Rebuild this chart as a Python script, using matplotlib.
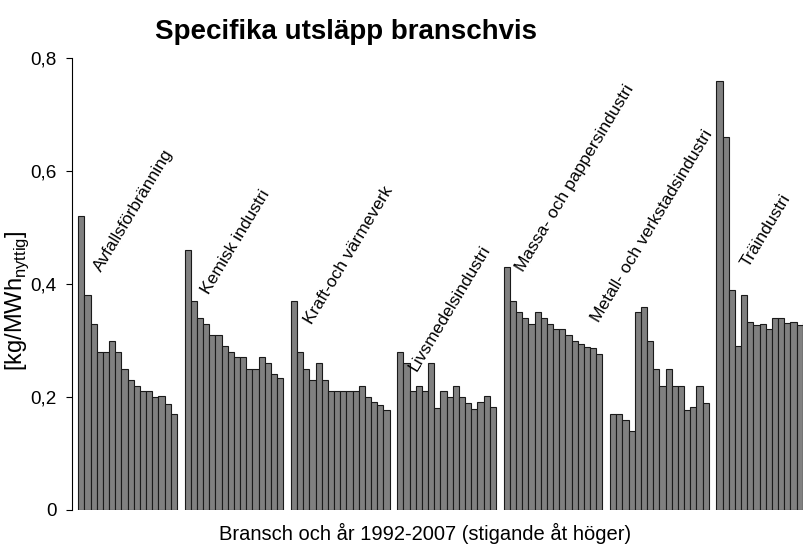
import numpy as np
import matplotlib.pyplot as plt

plt.rcParams['font.family'] = ['Liberation Sans', 'DejaVu Sans']
plt.rcParams['mathtext.fontset'] = 'custom'
plt.rcParams['mathtext.rm'] = 'Liberation Sans'

# branscher, 16 år vardera (1992-2007)
branscher = ['Avfallsförbränning', 'Kemisk industri', 'Kraft-och värmeverk',
             'Livsmedelsindustri', 'Massa- och pappersindustri',
             'Metall- och verkstadsindustri', 'Träindustri']

avfall = [0.52, 0.38, 0.33, 0.28, 0.28, 0.30, 0.28, 0.25, 0.23, 0.22, 0.21, 0.21, 0.20, 0.202, 0.188, 0.17]
kemisk = [0.46, 0.37, 0.34, 0.33, 0.31, 0.31, 0.29, 0.28, 0.27, 0.27, 0.25, 0.25, 0.27, 0.26, 0.24, 0.234]
kraft = [0.37, 0.28, 0.25, 0.23, 0.26, 0.23, 0.21, 0.21, 0.21, 0.21, 0.21, 0.22, 0.20, 0.192, 0.186, 0.177]
livsmedel = [0.28, 0.26, 0.21, 0.22, 0.21, 0.26, 0.18, 0.21, 0.20, 0.22, 0.20, 0.19, 0.178, 0.192, 0.201, 0.182]
massa = [0.43, 0.37, 0.35, 0.34, 0.33, 0.35, 0.34, 0.33, 0.32, 0.32, 0.31, 0.30, 0.293, 0.288, 0.286, 0.276]
metall = [0.17, 0.17, 0.16, 0.14, 0.35, 0.36, 0.30, 0.25, 0.22, 0.25, 0.22, 0.22, 0.177, 0.183, 0.22, 0.189]
tra = [0.76, 0.66, 0.39, 0.29, 0.38, 0.333, 0.327, 0.33, 0.321, 0.34, 0.34, 0.331, 0.332, 0.328, 0.333, 0.33]

serier = [avfall, kemisk, kraft, livsmedel, massa, metall, tra]

# layout: group spacing and where each rotated label starts (relative to group start)
period = 17.25
label_pos = [(3.2, 0.42), (3.4, 0.38), (2.9, 0.327), (2.6, 0.244),
             (2.7, 0.421), (-2.3, 0.331), (4.7, 0.428)]

fig = plt.figure(figsize=(8.04, 5.44), dpi=100)
ax = fig.add_axes([72 / 804, 34 / 544, 1 - 72 / 804, 452 / 544])

for g, vals in enumerate(serier):
    x = g * period + np.arange(len(vals))
    ax.bar(x, vals, width=1.0, color='#808080', edgecolor='#1a1a1a', linewidth=0.8)
    dx, y = label_pos[g]
    ax.text(g * period + dx, y, branscher[g], rotation=59, rotation_mode='anchor',
            ha='left', va='baseline', fontsize=12.6)

ax.set_xlim(-1.5, 117.2)
ax.set_ylim(0, 0.8)
ax.set_yticks([0, 0.2, 0.4, 0.6, 0.8])
ax.set_yticklabels(['0', '0,2', '0,4', '0,6', '0,8'], fontsize=13.6)
ax.set_xticks([])
ax.tick_params(axis='y', direction='out', length=4, width=0.8, pad=7)

for side in ['top', 'right', 'bottom']:
    ax.spines[side].set_visible(False)
ax.spines['left'].set_linewidth(0.8)

fig.text(17 / 804, 1 - 301 / 544, r'[kg/MWh$_{\mathregular{nyttig}}$]', rotation=90,
         ha='center', va='center', fontsize=17)
fig.text(425 / 804, 1 - 533 / 544, 'Bransch och år 1992-2007 (stigande åt höger)',
         ha='center', va='center', fontsize=14.5)
fig.text(346 / 804, 1 - 32 / 544, 'Specifika utsläpp branschvis', ha='center', va='center',
         fontsize=20, fontweight='bold')

fig.savefig('out.png', dpi=100)
